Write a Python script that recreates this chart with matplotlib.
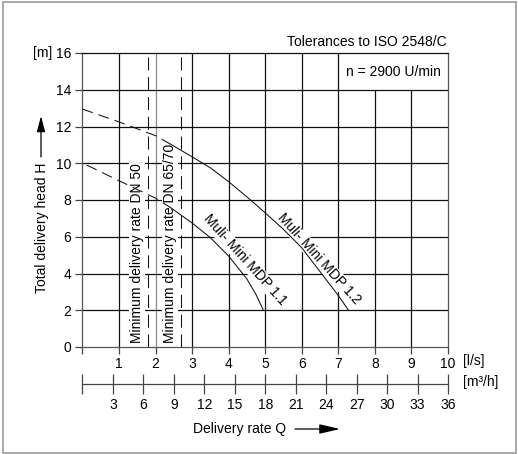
import matplotlib
matplotlib.use('Agg')
import matplotlib.pyplot as plt
from matplotlib.patches import Rectangle

plt.rcParams['font.family'] = ['Liberation Sans', 'DejaVu Sans']
plt.rcParams['font.size'] = 10

# --- data ---
q_ls_ticks = list(range(0, 11))          # [l/s]
h_ticks = list(range(0, 17, 2))          # [m]
q_m3h_ticks = list(range(0, 37, 3))      # [m3/h]

mdp11_q = [0.12, 1, 2, 2.4, 3, 3.5, 4, 4.5, 4.75, 4.95]
mdp11_h = [9.9, 9.05, 8.1, 7.6, 6.75, 5.95, 4.95, 3.7, 2.85, 2.0]

mdp12_q = [0, 1, 2, 2.4, 3, 3.5, 4, 4.6, 5, 5.5, 6, 6.5, 7, 7.28]
mdp12_h = [12.95, 12.25, 11.5, 11.05, 10.35, 9.75, 9.0, 8.0, 7.3, 6.4, 5.4, 4.1, 2.8, 2.0]

dash_end = 2.4  # curves are dashed below this flow
min_rate_q = [1.8, 2.7]
min_rate_text_q = [1.49, 2.40]
min_rate_labels = ['Minimum delivery rate DN 50', 'Minimum delivery rate DN 65/70']

W, H = 518, 454


def px(x, y):
    # pixel position (from top-left) -> figure fraction
    return x / W, 1 - y / H


fig = plt.figure(figsize=(W / 100, H / 100), dpi=100)
ax = fig.add_axes([82.4 / W, 1 - 347 / H, (448 - 82.4) / W, (347 - 53) / H])
ax.set_xlim(0, 10)
ax.set_ylim(0, 16)

# grid
for q in q_ls_ticks[1:-1]:
    top = 14 if q >= 8 else 16
    ax.plot([q, q], [0, top], color='#888888' if q == 2 else '#111111', lw=0.9, zorder=1)
for h in h_ticks[1:-1]:
    ax.plot([0, 10], [h, h], color='#111111', lw=0.9, zorder=1)

for side in ['left', 'bottom', 'right']:
    ax.spines[side].set_color('#555555')
    ax.spines[side].set_linewidth(0.9)
ax.spines['top'].set_color('#111111')
ax.spines['top'].set_linewidth(0.9)

ax.set_xticks(q_ls_ticks, [''] + [str(t) for t in q_ls_ticks[1:]])
ax.set_yticks(h_ticks)
ax.tick_params(axis='x', direction='out', length=5, width=0.9, color='#444444', pad=2)
ax.tick_params(axis='y', direction='out', length=5, width=0.9, color='#444444', pad=3)

# minimum delivery rate lines
for q, tq, lab in zip(min_rate_q, min_rate_text_q, min_rate_labels):
    ax.plot([q, q], [0, 16], color='#111111', lw=0.75, dashes=(12.5, 6.5), zorder=2)
    ax.text(tq, 0.2, lab, rotation=90, ha='center', va='bottom', zorder=2,
            bbox=dict(facecolor='white', edgecolor='none', pad=0.5))


# pump curves, dashed below minimum rate
def draw_curve(qs, hs):
    dq = [q for q in qs if q <= dash_end]
    dh = [h for q, h in zip(qs, hs) if q <= dash_end]
    sq = [q for q in qs if q >= dash_end]
    sh = [h for q, h in zip(qs, hs) if q >= dash_end]
    ax.plot(dq, dh, color='#111111', lw=0.75, dashes=(10.5, 5.8), zorder=3)
    ax.plot(sq, sh, color='#111111', lw=0.75, zorder=3)


draw_curve(mdp11_q, mdp11_h)
draw_curve(mdp12_q, mdp12_h)

ax.text(4.45, 4.73, 'Muli- Mini MDP 1.1', rotation=-48, rotation_mode='anchor',
        ha='center', va='center', zorder=2,
        bbox=dict(facecolor='white', edgecolor='none', pad=0.5))
ax.text(6.48, 4.78, 'Muli- Mini MDP 1.2', rotation=-48, rotation_mode='anchor',
        ha='center', va='center', zorder=2,
        bbox=dict(facecolor='white', edgecolor='none', pad=0.5))

# second flow scale in m3/h
sec = ax.secondary_xaxis(-0.126, functions=(lambda q: q * 3.6, lambda m: m / 3.6))
sec.set_xticks(q_m3h_ticks, [''] + [str(t) for t in q_m3h_ticks[1:]])
sec.tick_params(direction='inout', length=14, width=0.9, color='#444444', pad=3)
sec.spines['bottom'].set_color('#444444')
sec.spines['bottom'].set_linewidth(0.9)

# texts around the chart
fig.text(*px(447, 42), 'Tolerances to ISO 2548/C', ha='right', va='center')
fig.text(*px(441, 72), 'n = 2900 U/min', ha='right', va='center')
fig.text(*px(52, 53), '[m]', ha='right', va='center')
fig.text(*px(463, 361), '[l/s]', ha='left', va='center')
fig.text(*px(463, 382), '[m³/h]', ha='left', va='center')
fig.text(*px(240, 429), 'Delivery rate Q', ha='center', va='center')
fig.text(*px(42, 228), 'Total delivery head H', rotation=90, ha='center', va='center')

ax.annotate('', xy=(340, H - 429), xytext=(295, H - 429), xycoords='figure pixels',
            arrowprops=dict(arrowstyle='-|>,head_length=1.25,head_width=0.29',
                            color='black', lw=0.9, shrinkA=0, shrinkB=0, mutation_scale=10))
ax.annotate('', xy=(41, H - 116), xytext=(41, H - 157), xycoords='figure pixels',
            arrowprops=dict(arrowstyle='-|>,head_length=0.95,head_width=0.25',
                            color='black', lw=0.9, shrinkA=0, shrinkB=0, mutation_scale=10))

# outer frame
fig.add_artist(Rectangle((3 / W, 1 / H), 513 / W, 451 / H, transform=fig.transFigure,
                         fill=False, edgecolor='#999999', lw=1.2))

fig.savefig('out.png', dpi=100)
